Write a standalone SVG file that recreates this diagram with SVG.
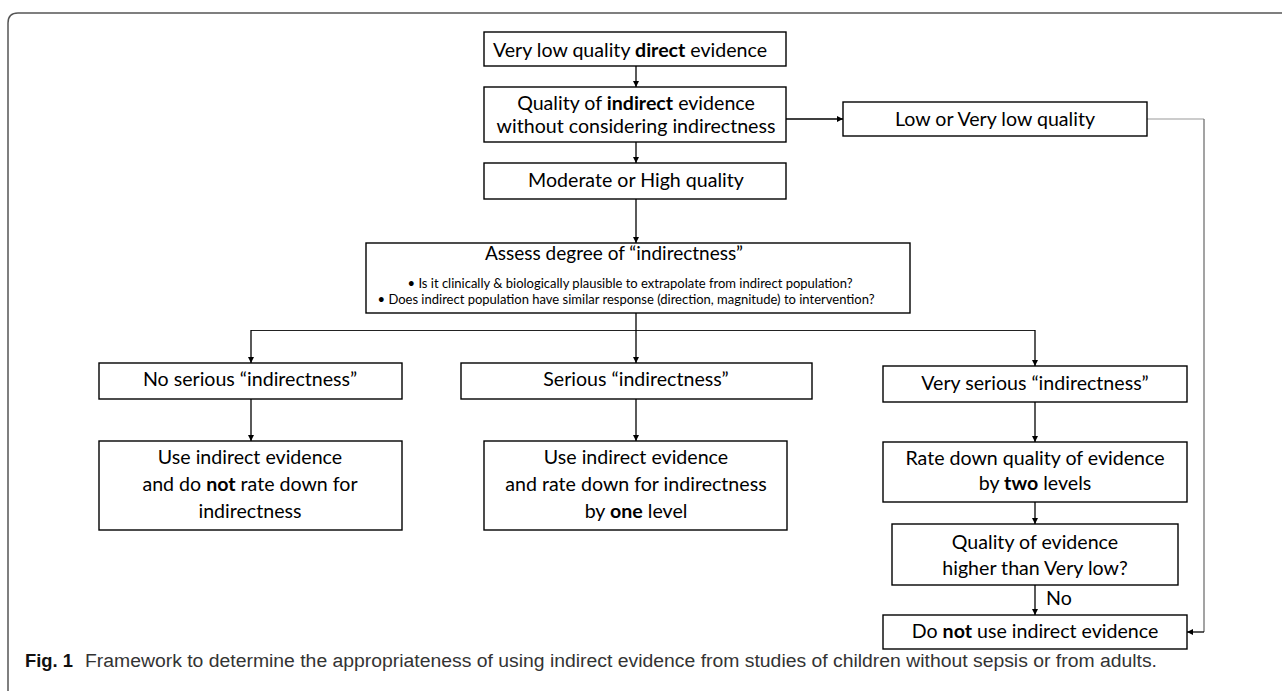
<svg xmlns="http://www.w3.org/2000/svg" width="1282" height="691" viewBox="0 0 1282 691">
<defs>
<marker id="ah" viewBox="0 0 10 10" refX="10" refY="5" markerWidth="6" markerHeight="6" markerUnits="userSpaceOnUse" orient="auto"><path d="M0,0 L10,5 L0,10 z" fill="#000"/></marker>
<style>
.box{fill:#fff;stroke:#000;stroke-width:1.4}
.t{font-family:Lato,"Open Sans","Liberation Sans",sans-serif;font-size:19.6px;fill:#000;text-anchor:middle}
.s{font-family:Lato,"Open Sans","Liberation Sans",sans-serif;font-size:13px;fill:#000;text-anchor:middle}
.b{font-weight:bold}
.c{fill:none;stroke:#000;stroke-width:1.3}
.g{fill:none;stroke:#999;stroke-width:1.2}
.cap{font-family:"Liberation Sans",Arial,sans-serif;font-size:18px;fill:#333}
</style>
</defs>
<rect width="1282" height="691" fill="#fff"/>
<path d="M8,700 L8,23 Q8,13 18,13 L1290,13" fill="none" stroke="#555" stroke-width="1.5"/>

<g id="connectors">
<line class="c" x1="636" y1="66" x2="636" y2="87" marker-end="url(#ah)"/>
<line class="c" x1="786" y1="119" x2="843" y2="119" marker-end="url(#ah)"/>
<line class="c" x1="636" y1="142" x2="636" y2="163" marker-end="url(#ah)"/>
<line class="c" x1="636" y1="199" x2="636" y2="243" marker-end="url(#ah)"/>
<line class="c" x1="636" y1="313" x2="636" y2="330"/>
<line class="c" x1="251" y1="330.5" x2="1035" y2="330.5" style="stroke:#222;stroke-width:1"/>
<line class="c" x1="251" y1="330" x2="251" y2="363" marker-end="url(#ah)"/>
<line class="c" x1="636" y1="330" x2="636" y2="363" marker-end="url(#ah)"/>
<line class="c" x1="1035" y1="330" x2="1035" y2="366" marker-end="url(#ah)"/>
<line class="c" x1="251" y1="399" x2="251" y2="441" marker-end="url(#ah)"/>
<line class="c" x1="636" y1="399" x2="636" y2="441" marker-end="url(#ah)"/>
<line class="c" x1="1035" y1="402" x2="1035" y2="442" marker-end="url(#ah)"/>
<line class="c" x1="1035" y1="502" x2="1035" y2="524" marker-end="url(#ah)"/>
<line class="c" x1="1035" y1="585" x2="1035" y2="615" marker-end="url(#ah)"/>
<polyline class="g" points="1147,119 1204,119"/>
<line class="g" x1="1204" y1="119" x2="1204" y2="632" style="stroke:#666"/>
<line class="c" x1="1204" y1="632" x2="1187" y2="632" marker-end="url(#ah)"/>
<text class="t" x="1046" y="605" style="text-anchor:start">No</text>
</g>

<g id="n1"><rect class="box" x="484" y="32" width="302" height="34"/>
<text class="t" x="630" y="57">Very low quality <tspan class="b">direct</tspan> evidence</text></g>

<g id="n2"><rect class="box" x="484" y="87" width="302" height="55"/>
<text class="t" x="636" y="110">Quality of <tspan class="b">indirect</tspan> evidence</text>
<text class="t" x="636" y="133">without considering indirectness</text></g>

<g id="n3"><rect class="box" x="843" y="102" width="304" height="34"/>
<text class="t" x="995" y="126">Low or Very low quality</text></g>

<g id="n4"><rect class="box" x="484" y="163" width="302" height="36"/>
<text class="t" x="636" y="187">Moderate or High quality</text></g>

<g id="n5"><rect class="box" x="366" y="243" width="544" height="70"/>
<text class="t" x="614" y="260" style="font-size:19px">Assess degree of “indirectness”</text>
<text class="s" x="630" y="288">• Is it clinically &amp; biologically plausible to extrapolate from indirect population?</text>
<text class="s" x="626" y="304">• Does indirect population have similar response (direction, magnitude) to intervention?</text></g>

<g id="n6"><rect class="box" x="99" y="363" width="303" height="36"/>
<text class="t" x="250" y="386">No serious “indirectness”</text></g>

<g id="n7"><rect class="box" x="99" y="441" width="303" height="89"/>
<text class="t" x="250" y="464">Use indirect evidence</text>
<text class="t" x="250" y="491">and do <tspan class="b">not</tspan> rate down for</text>
<text class="t" x="250" y="518">indirectness</text></g>

<g id="n8"><rect class="box" x="461" y="363" width="351" height="36"/>
<text class="t" x="636" y="386">Serious “indirectness”</text></g>

<g id="n9"><rect class="box" x="484" y="441" width="303" height="89"/>
<text class="t" x="636" y="464">Use indirect evidence</text>
<text class="t" x="636" y="491">and rate down for indirectness</text>
<text class="t" x="636" y="518">by <tspan class="b">one</tspan> level</text></g>

<g id="n10"><rect class="box" x="883" y="366" width="304" height="36"/>
<text class="t" x="1035" y="390">Very serious “indirectness”</text></g>

<g id="n11"><rect class="box" x="883" y="442" width="304" height="60"/>
<text class="t" x="1035" y="465">Rate down quality of evidence</text>
<text class="t" x="1035" y="490">by <tspan class="b">two</tspan> levels</text></g>

<g id="n12"><rect class="box" x="892" y="524" width="286" height="61"/>
<text class="t" x="1035" y="549">Quality of evidence</text>
<text class="t" x="1035" y="575">higher than Very low?</text></g>

<g id="n13"><rect class="box" x="883" y="615" width="304" height="34"/>
<text class="t" x="1035" y="638">Do <tspan class="b">not</tspan> use indirect evidence</text></g>

<text class="cap" x="25" y="667"><tspan font-weight="bold" fill="#111" textLength="48" lengthAdjust="spacingAndGlyphs">Fig. 1</tspan></text>
<text class="cap" x="85" y="667" textLength="1072" lengthAdjust="spacingAndGlyphs">Framework to determine the appropriateness of using indirect evidence from studies of children without sepsis or from adults.</text>
</svg>
